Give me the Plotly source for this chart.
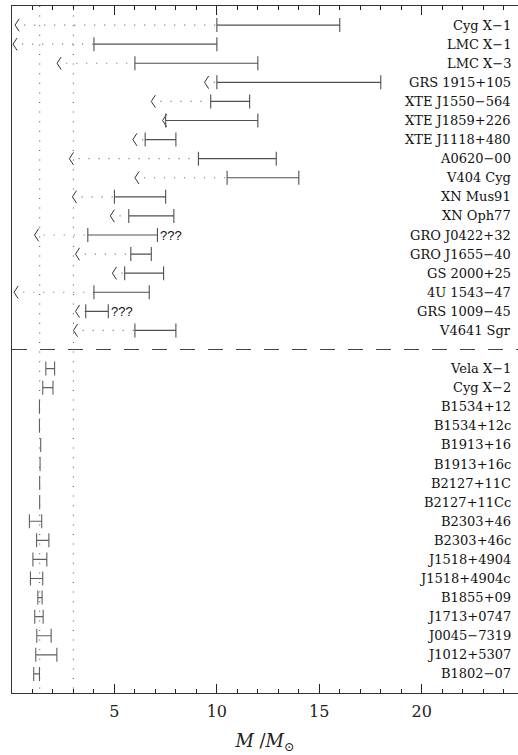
import plotly.graph_objects as go

# ---------------- data ----------------
bh_names = ["Cyg X−1", "LMC X−1", "LMC X−3", "GRS 1915+105", "XTE J1550−564",
            "XTE J1859+226", "XTE J1118+480", "A0620−00", "V404 Cyg", "XN Mus91",
            "XN Oph77", "GRO J0422+32", "GRO J1655−40", "GS 2000+25", "4U 1543−47",
            "GRS 1009−45", "V4641 Sgr"]
bh_low = [10.0, 4.0, 6.0, 10.0, 9.7, 7.5, 6.5, 9.1, 10.5, 5.0, 5.7, 3.7, 5.8, 5.5, 4.0, 3.6, 6.0]
bh_high = [16.0, 10.0, 12.0, 18.0, 11.6, 12.0, 8.0, 12.9, 14.0, 7.5, 7.9, 7.1, 6.8, 7.4, 6.7, 4.7, 8.0]
bh_limit = [0.15, 0.05, 2.2, 9.4, 6.8, 7.35, 5.9, 2.8, 6.0, 2.95, 4.8, 1.1, 3.1, 4.9, 0.1, 3.1, 3.0]
bh_uncertain = ["", "", "", "", "", "", "", "", "", "", "", "???", "", "", "", "???", ""]

ns_names = ["Vela X−1", "Cyg X−2", "B1534+12", "B1534+12c", "B1913+16", "B1913+16c",
            "B2127+11C", "B2127+11Cc", "B2303+46", "B2303+46c", "J1518+4904",
            "J1518+4904c", "B1855+09", "J1713+0747", "J0045−7319", "J1012+5307", "B1802−07"]
ns_low = [1.65, 1.5, 1.34, 1.34, 1.40, 1.37, 1.35, 1.35, 0.85, 1.2, 1.02, 0.9, 1.26, 1.11, 1.21, 1.16, 1.06]
ns_high = [2.08, 2.0, 1.34, 1.34, 1.40, 1.37, 1.35, 1.35, 1.45, 1.8, 1.7, 1.5, 1.47, 1.52, 1.91, 2.19, 1.34]

ref_masses = [1.35, 3.0]
x_ticks = [5, 10, 15, 20]
x_minor_ticks = list(range(1, 25))

# ---------------- layout helpers ----------------
n_bh = len(bh_names)
bh_rows = list(range(n_bh))
sep_row = n_bh
ns_rows = [n_bh + 1 + i for i in range(len(ns_names))]
y_min, y_max = -1, ns_rows[-1] + 1
x_max = 24.7
label_x = 24.45

bar_col = "#505050"
ns_col = "#606060"
dot_col = "#666666"
axis_col = "#333"

fig = go.Figure()

# vertical reference dotted lines
for m in ref_masses:
    fig.add_trace(go.Scatter(x=[m, m], y=[y_min, y_max], mode="lines",
                             line=dict(color=dot_col, width=1.2, dash="1px,8.6px"),
                             hoverinfo="skip", showlegend=False))

# separator dashed line
fig.add_trace(go.Scatter(x=[0, x_max], y=[sep_row, sep_row], mode="lines",
                         line=dict(color="#444", width=1, dash="15px,13px"),
                         hoverinfo="skip", showlegend=False))

# dotted lines from lower limit to bar
dx, dy = [], []
for r, a, lo in zip(bh_rows, bh_limit, bh_low):
    dx += [a + 0.45, lo, None]
    dy += [r, r, None]
fig.add_trace(go.Scatter(x=dx, y=dy, mode="lines",
                         line=dict(color=dot_col, width=1.2, dash="1px,9px"),
                         hoverinfo="skip", showlegend=False))

# chevrons (lower limits)
cx, cy = [], []
for r, a in zip(bh_rows, bh_limit):
    cx += [a + 0.2, a, a + 0.2, None]
    cy += [r - 0.33, r, r + 0.33, None]
fig.add_trace(go.Scatter(x=cx, y=cy, mode="lines", cliponaxis=False,
                         line=dict(color="#333", width=1),
                         hoverinfo="skip", showlegend=False))

# black hole mass ranges
bh_mid = [(l + h) / 2 for l, h in zip(bh_low, bh_high)]
fig.add_trace(go.Scatter(
    x=bh_mid, y=bh_rows, mode="markers", marker=dict(size=1, opacity=0),
    error_x=dict(type="data", symmetric=False,
                 array=[h - m for h, m in zip(bh_high, bh_mid)],
                 arrayminus=[m - l for m, l in zip(bh_mid, bh_low)],
                 color=bar_col, thickness=1.1, width=7),
    hoverinfo="skip", showlegend=False))

# neutron star mass ranges
ns_mid = [(l + h) / 2 for l, h in zip(ns_low, ns_high)]
fig.add_trace(go.Scatter(
    x=ns_mid, y=ns_rows, mode="markers", marker=dict(size=1, opacity=0),
    error_x=dict(type="data", symmetric=False,
                 array=[h - m for h, m in zip(ns_high, ns_mid)],
                 arrayminus=[m - l for m, l in zip(ns_mid, ns_low)],
                 color=ns_col, thickness=1.1, width=7),
    hoverinfo="skip", showlegend=False))

# labels
annotations = []
for name, r in zip(bh_names + ns_names, bh_rows + ns_rows):
    annotations.append(dict(x=label_x, y=r, text=name, showarrow=False,
                            xanchor="right", yanchor="middle",
                            font=dict(family="DejaVu Serif", size=13, color="#111")))
for txt, r, h in zip(bh_uncertain, bh_rows, bh_high):
    if txt:
        annotations.append(dict(x=h, y=r, text=txt, showarrow=False,
                                xanchor="left", yanchor="middle", xshift=1,
                                font=dict(family="Liberation Sans", size=13, color="#111")))

fig.update_layout(
    width=518, height=755,
    margin=dict(l=12, r=0, t=6, b=62),
    paper_bgcolor="white", plot_bgcolor="white",
    annotations=annotations,
    showlegend=False,
    xaxis=dict(
        range=[0, x_max], tickmode="array", tickvals=x_ticks,
        ticks="inside", ticklen=9, tickwidth=1.2, tickcolor="#222",
        minor=dict(tickmode="array", tickvals=x_minor_ticks, ticks="inside",
                   ticklen=4, tickwidth=1.2, tickcolor="#222", showgrid=False),
        showline=True, linecolor=axis_col, linewidth=1, mirror="allticks",
        showgrid=False, zeroline=False,
        tickfont=dict(family="DejaVu Serif", size=16, color="#222"),
        ticklabelstandoff=4,
        title=dict(text="<i>M</i> /<i>M</i><sub>⊙</sub>", standoff=14,
                   font=dict(family="DejaVu Serif", size=18, color="#222")),
    ),
    yaxis=dict(
        range=[y_max, y_min], showticklabels=False, ticks="",
        showline=True, linecolor=axis_col, linewidth=1,
        showgrid=False, zeroline=False,
    ),
)

fig.write_html("out.html")
